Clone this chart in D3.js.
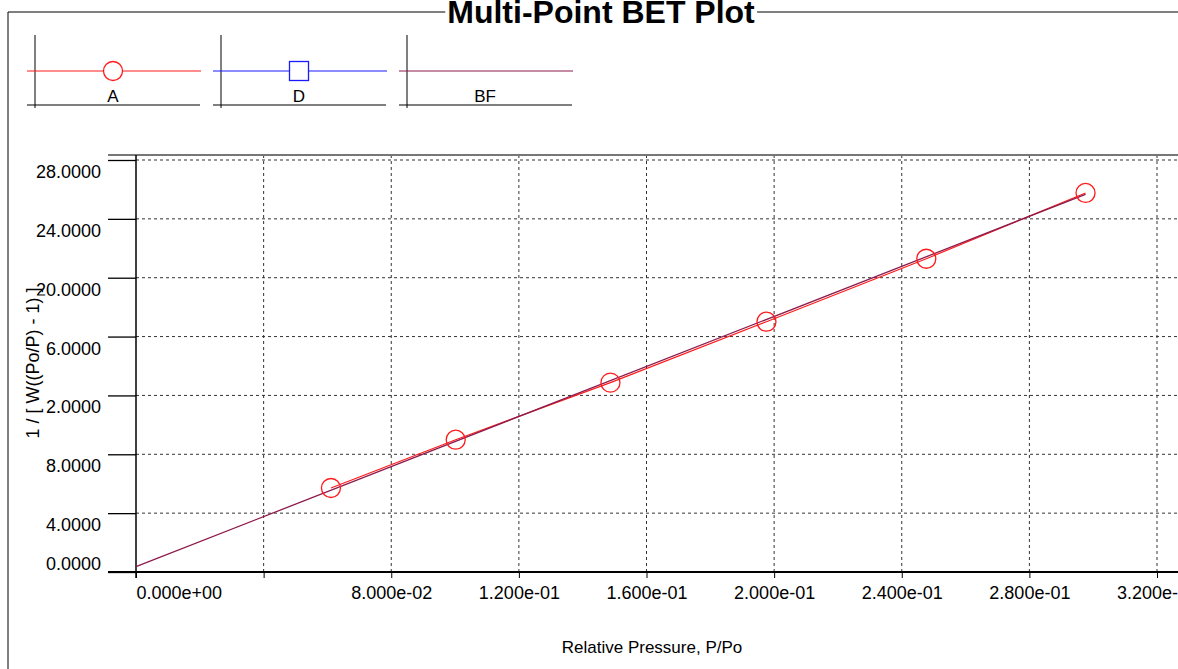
<!DOCTYPE html>
<html>
<head>
<meta charset="utf-8">
<script src="https://cdnjs.cloudflare.com/ajax/libs/d3/7.8.5/d3.min.js"></script>
<style>
 body { margin: 0; background: #fff; overflow: hidden; }
 svg { display: block; font-family: "Liberation Sans", Arial, sans-serif; }
 .grid line { stroke: #333; stroke-width: 1; stroke-dasharray: 3,3; }
</style>
</head>
<body>
<svg id="chart" width="1178" height="669"></svg>

<script>
 // measured points, series A
 var pressure = [0.0611, 0.1002, 0.1487, 0.1976, 0.2477, 0.2976];
 var betValue = [5.71, 8.99, 12.87, 17.01, 21.29, 25.76];

 // best fit line end points
 var bfX = [0, 0.2976];
 var bfY = [0.36, 25.67];

 var xTicks = [0, 0.04, 0.08, 0.12, 0.16, 0.20, 0.24, 0.28, 0.32];
 var xTickLabels = ["0.000e+00", "", "8.000e-02", "1.200e-01", "1.600e-01",
                    "2.000e-01", "2.400e-01", "2.800e-01", "3.200e-01"];
 var yTicks = [0, 4, 8, 12, 16, 20, 24, 28];
 var yTickLabels = ["0.0000", "4.0000", "8.0000", "12.0000", "16.0000",
                    "20.0000", "24.0000", "28.0000"];

 var legendNames = ["A", "D", "BF"];
 var legendColors = ["#ff1a1a", "#1a1aff", "#8c1a4b"];
 var legendSymbols = ["circle", "square", "none"];

 var svg = d3.select("#chart");

 var pLeft = 136, pRight = 1178, pTop = 155, pBottom = 572;

 var x = d3.scaleLinear().domain([0, 0.32]).range([pLeft, 1157]);
 var y = d3.scaleLinear().domain([0, 28]).range([pBottom, 160]);

 // outer frame
 svg.append("line").attr("x1", 8).attr("x2", 1178).attr("y1", 12).attr("y2", 12)
    .attr("stroke", "#000").attr("stroke-width", 1);
 svg.append("line").attr("x1", 8).attr("x2", 8).attr("y1", 12).attr("y2", 669)
    .attr("stroke", "#000").attr("stroke-width", 1);

 var title = svg.append("text").attr("x", 601).attr("y", 23)
    .attr("text-anchor", "middle").attr("font-size", 32).attr("font-weight", "bold")
    .text("Multi-Point BET Plot");
 var tb = title.node().getBBox();
 svg.insert("rect", "text").attr("x", tb.x - 2).attr("y", 0)
    .attr("width", tb.width + 4).attr("height", 20).attr("fill", "#fff");

 // legend
 var lg = svg.selectAll(".leg").data(legendNames).enter().append("g")
    .attr("class", "leg")
    .attr("transform", function(d, i){ return "translate(" + (27 + i*186) + ",0)"; });
 lg.append("line").attr("x1", 8).attr("x2", 8).attr("y1", 35).attr("y2", 108)
    .attr("stroke", "#000");
 lg.append("line").attr("x1", 0).attr("x2", 173).attr("y1", 105).attr("y2", 105)
    .attr("stroke", "#000");
 lg.append("line").attr("x1", 0).attr("x2", 174).attr("y1", 71).attr("y2", 71)
    .attr("stroke", function(d, i){ return legendColors[i]; }).attr("stroke-width", 1.2);
 lg.each(function(d, i){
     var g = d3.select(this);
     if (legendSymbols[i] == "circle")
         g.append("circle").attr("cx", 86).attr("cy", 71).attr("r", 9.5)
          .attr("fill", "#fff").attr("stroke", legendColors[i]).attr("stroke-width", 1.3);
     else if (legendSymbols[i] == "square")
         g.append("rect").attr("x", 76.5).attr("y", 61.5).attr("width", 19).attr("height", 19)
          .attr("fill", "#fff").attr("stroke", legendColors[i]).attr("stroke-width", 1.3);
 });
 lg.append("text").attr("x", 86).attr("y", 102)
    .attr("text-anchor", "middle").attr("font-size", 17).text(function(d){ return d; });

 // grid
 var grid = svg.append("g").attr("class", "grid");
 grid.selectAll(".h").data(yTicks.filter(function(d){ return d > 0; })).enter().append("line")
    .attr("x1", pLeft).attr("x2", pRight)
    .attr("y1", function(d){ return y(d); }).attr("y2", function(d){ return y(d); });
 grid.selectAll(".v").data(xTicks.filter(function(d){ return d > 0; })).enter().append("line")
    .attr("y1", pTop).attr("y2", pBottom)
    .attr("x1", function(d){ return x(d); }).attr("x2", function(d){ return x(d); });

 // top border
 svg.append("line").attr("x1", 108).attr("x2", pRight).attr("y1", pTop).attr("y2", pTop)
    .attr("stroke", "#777").attr("stroke-width", 2);

 // x axis
 var gx = svg.append("g").attr("transform", "translate(0," + pBottom + ")")
    .call(d3.axisBottom(x).tickValues(xTicks)
          .tickFormat(function(d, i){ return xTickLabels[i]; })
          .tickSize(6).tickPadding(8));
 gx.select(".domain").remove();
 gx.selectAll("text").attr("font-size", 18).attr("font-family", null).attr("fill", "#000")
    .attr("text-anchor", function(d, i){ return i == 0 ? "start" : "middle"; });
 gx.selectAll(".tick line").attr("stroke", "#000");
 svg.append("line").attr("x1", 108).attr("x2", pRight).attr("y1", pBottom).attr("y2", pBottom)
    .attr("stroke", "#000").attr("stroke-width", 2);

 // y axis
 var gy = svg.append("g").attr("transform", "translate(" + pLeft + ",0)")
    .call(d3.axisLeft(y).tickValues(yTicks)
          .tickFormat(function(d, i){ return yTickLabels[i]; })
          .tickSize(28).tickPadding(7));
 gy.select(".domain").remove();
 gy.selectAll(".tick line").attr("stroke", "#000").attr("stroke-width", 1.3);
 gy.selectAll("text").attr("font-size", 18).attr("font-family", null).attr("fill", "#000")
    .attr("dy", function(d){ return d == 0 ? "-2.5px" : "17.5px"; });
 svg.append("line").attr("x1", pLeft).attr("x2", pLeft).attr("y1", pTop).attr("y2", 578)
    .attr("stroke", "#000").attr("stroke-width", 1.5);

 // axis titles
 var yt = svg.append("text").attr("transform", "translate(33,363) rotate(-90)")
    .attr("text-anchor", "middle").attr("dominant-baseline", "central")
    .attr("font-size", 18).text("1 / [ W((Po/P) - 1) ]");
 var yb = yt.node().getBBox();
 svg.insert("rect", function(){ return yt.node(); })
    .attr("x", 22).attr("y", 363 - yb.width/2 + 8)
    .attr("width", 24).attr("height", yb.width - 8).attr("fill", "#fff");

 svg.append("text").attr("x", 652).attr("y", 653).attr("text-anchor", "middle")
    .attr("font-size", 17).text("Relative Pressure, P/Po");

 // series
 var line = d3.line().x(function(d){ return x(d[0]); }).y(function(d){ return y(d[1]); });
 svg.append("path").datum(d3.zip(pressure, betValue)).attr("d", line)
    .attr("fill", "none").attr("stroke", legendColors[0]).attr("stroke-width", 1.2);
 svg.append("path").datum(d3.zip(bfX, bfY)).attr("d", line)
    .attr("fill", "none").attr("stroke", legendColors[2]).attr("stroke-width", 1.3);
 svg.selectAll(".pt").data(d3.zip(pressure, betValue)).enter().append("circle")
    .attr("cx", function(d){ return x(d[0]); }).attr("cy", function(d){ return y(d[1]); })
    .attr("r", 9.5).attr("fill", "none").attr("stroke", legendColors[0]).attr("stroke-width", 1.3);
</script>
</body>
</html>
